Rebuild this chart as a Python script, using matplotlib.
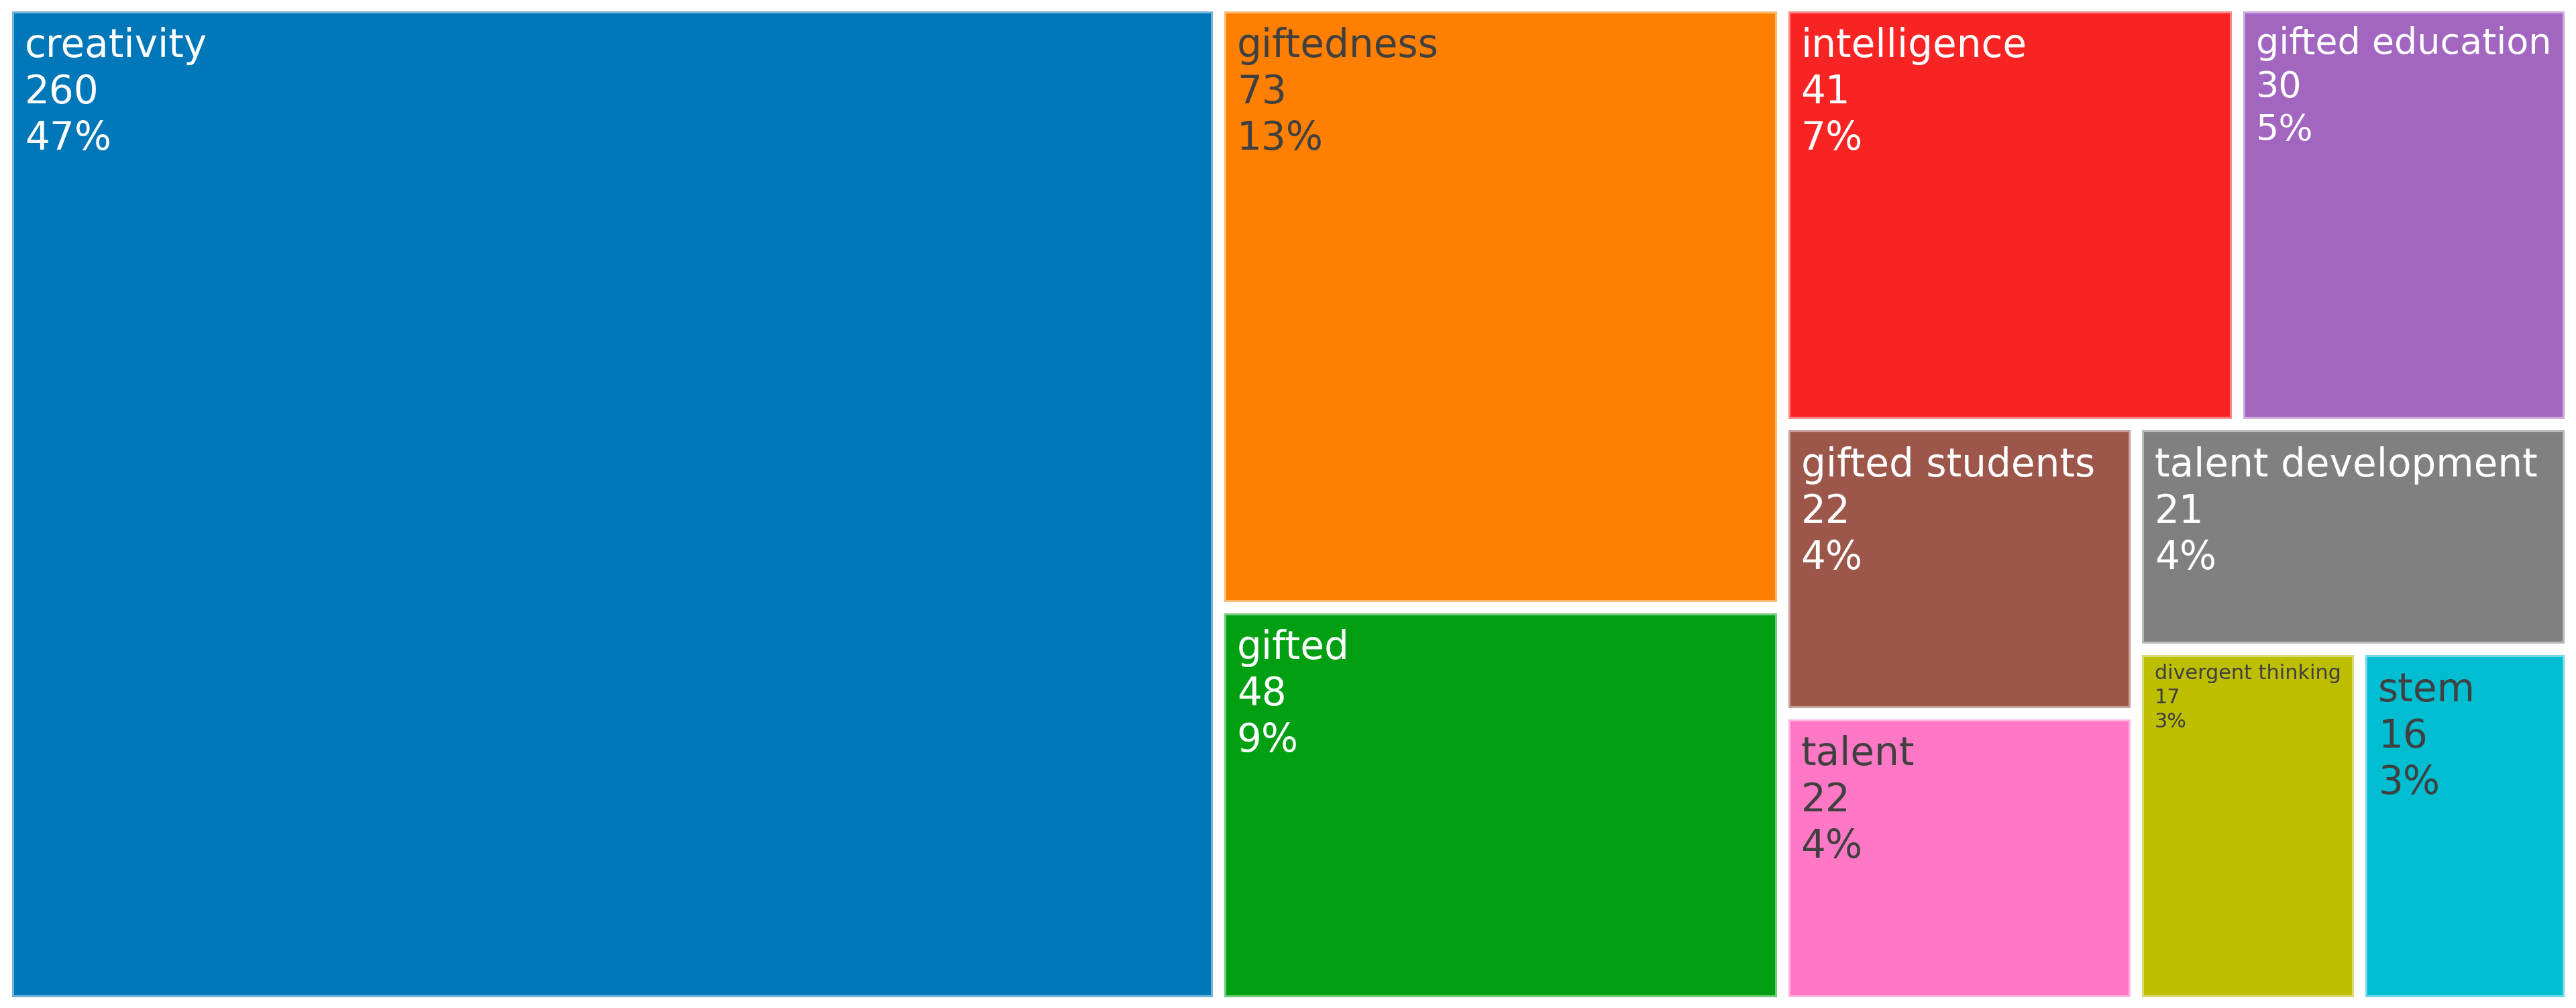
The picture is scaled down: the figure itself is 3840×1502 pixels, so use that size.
import matplotlib
matplotlib.use("Agg")
import matplotlib.pyplot as plt
from matplotlib.patches import Rectangle
from matplotlib.colors import to_rgb
import numpy as np

# keyword frequencies
keywords = ["creativity", "giftedness", "gifted", "intelligence", "gifted education",
            "gifted students", "talent", "talent development", "divergent thinking", "stem"]
counts = [260, 73, 48, 41, 30, 22, 22, 21, 17, 16]
colors = ["#0077b8", "#ff8000", "#00a012", "#f82424", "#a266c0",
          "#9c564a", "#ff78c6", "#808080", "#bebe00", "#00bed2"]

W, H = 3840, 1502
DPI = 100


def worst(row, side):
    s = sum(row)
    return max(max(side ** 2 * r / s ** 2, s ** 2 / (side ** 2 * r)) for r in row)


def squarify(values, x, y, w, h):
    # classic squarified treemap (Bruls et al.), y grows downwards
    total = sum(values)
    vals = [v * w * h / total for v in values]
    out = []
    while vals:
        side = min(w, h)
        row = [vals[0]]
        i = 1
        while i < len(vals) and worst(row + [vals[i]], side) <= worst(row, side):
            row.append(vals[i])
            i += 1
        s = sum(row)
        if w >= h:
            cw = s / h
            yy = y
            for v in row:
                out.append((x, yy, cw, v / cw))
                yy += v / cw
            x += cw
            w -= cw
        else:
            rh = s / w
            xx = x
            for v in row:
                out.append((xx, y, v / rh, rh))
                xx += v / rh
            y += rh
            h -= rh
        vals = vals[i:]
    return out


def luminance(c):
    rgb = np.array(to_rgb(c))
    lin = np.where(rgb <= 0.04045, rgb / 12.92, ((rgb + 0.055) / 1.055) ** 2.4)
    return 0.2126 * lin[0] + 0.7152 * lin[1] + 0.0722 * lin[2]


def lighten(c, f=0.45):
    rgb = np.array(to_rgb(c))
    return tuple(rgb + (1 - rgb) * f)


plt.rcParams['font.family'] = ['DejaVu Sans']

fig = plt.figure(figsize=(W / DPI, H / DPI), dpi=DPI)
ax = fig.add_axes([0, 0, 1, 1])
ax.set_xlim(0, W)
ax.set_ylim(H, 0)
ax.axis("off")
renderer = fig.canvas.get_renderer()

total = sum(counts)
rects = squarify(counts, 9, 8, W - 18, H - 16)

gap = 10
pad = 18
base_px = 58.0

for name, v, c, (x, y, w, h) in zip(keywords, counts, colors, rects):
    x, y, w, h = x + gap, y + gap, w - 2 * gap, h - 2 * gap
    ax.add_patch(Rectangle((x, y), w, h, facecolor=c, edgecolor=lighten(c),
                           linewidth=2.2))
    lines = [name, str(v), "{}%".format(round(v / total * 100))]
    tc = "#404040" if luminance(c) > 0.3 else "white"

    widths = []
    for s in lines:
        t = ax.text(0, 0, s, fontsize=base_px * 72 / DPI)
        widths.append(t.get_window_extent(renderer).width)
        t.remove()
    scale = min(1.0, (w - 2 * pad) / max(widths))
    fs = base_px * scale
    for i, s in enumerate(lines):
        ax.text(x + pad, y + fs * (1.16 + 1.19 * i), s, fontsize=fs * 72 / DPI,
                color=tc, ha="left", va="baseline")

fig.savefig("out.png", dpi=DPI, facecolor="white")
